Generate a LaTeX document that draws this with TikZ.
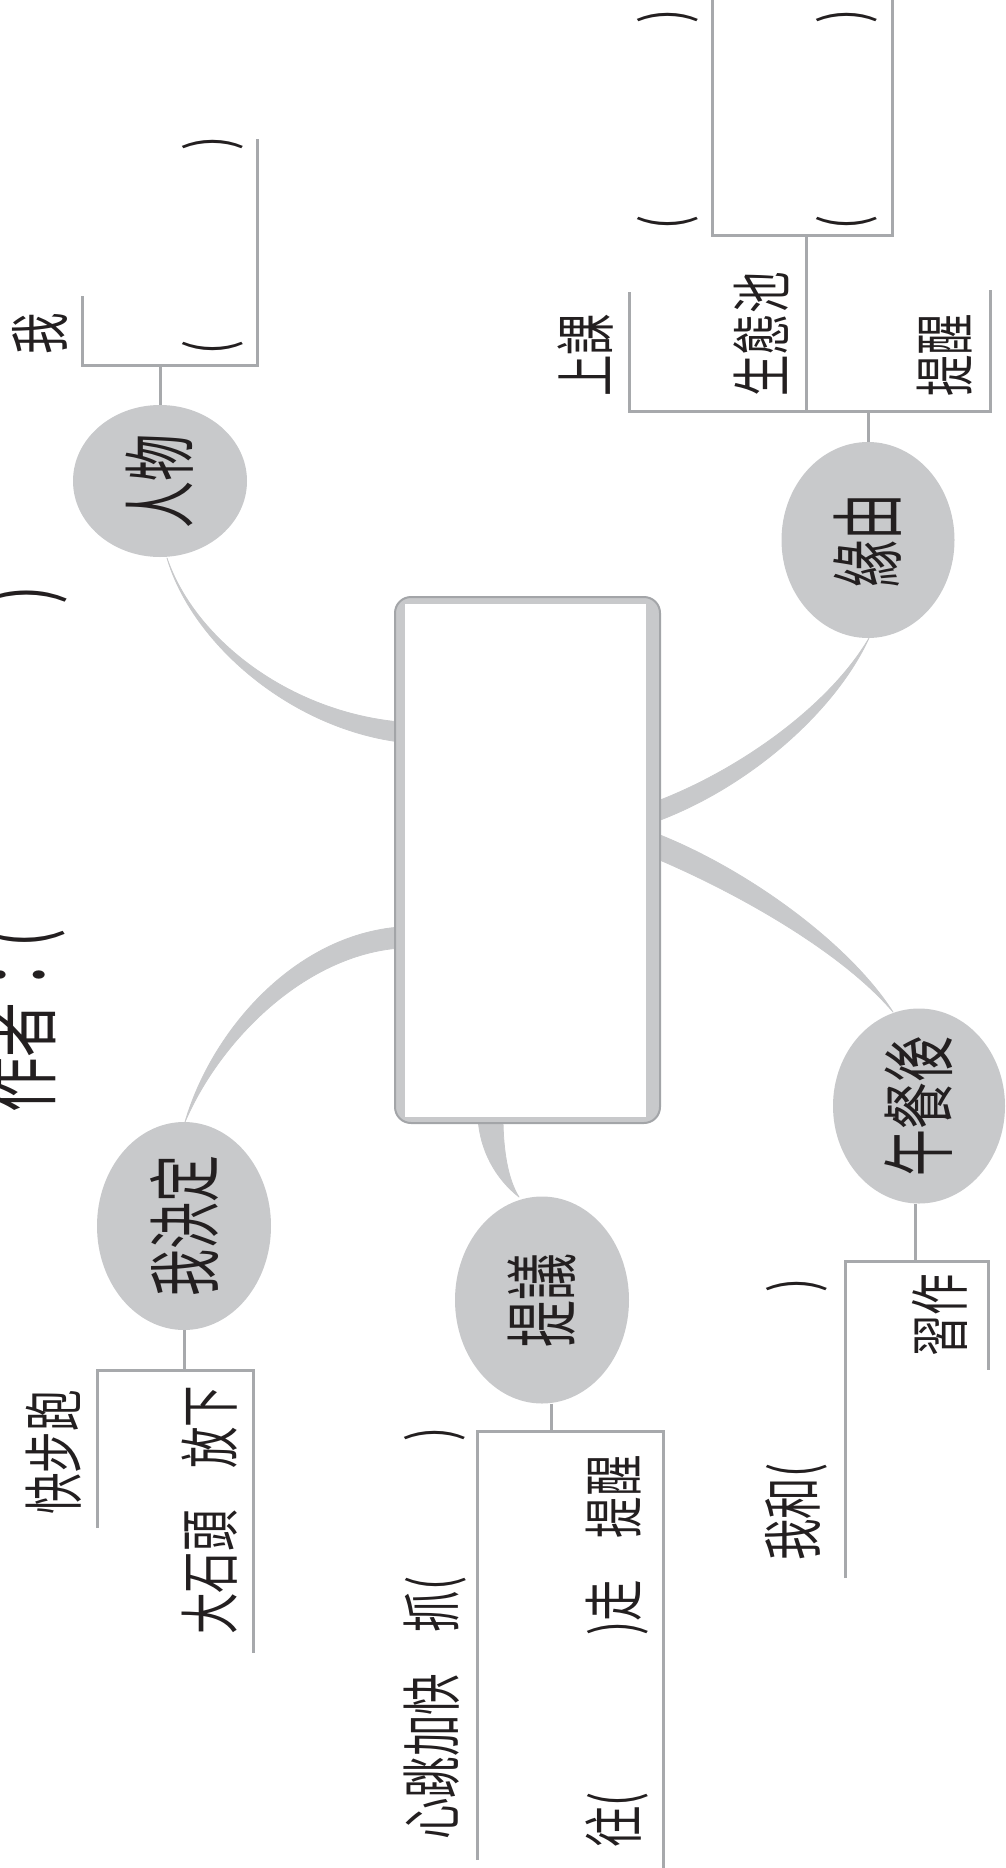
\documentclass[tikz,border=0pt]{standalone}
\usepackage{fontspec}
\newfontfamily\cjk{Noto Sans CJK TC}
\usetikzlibrary{shapes.geometric}
\definecolor{bubgray}{HTML}{C8C9CB}
\definecolor{linegray}{HTML}{A7A9AC}
\definecolor{boxline}{HTML}{A3A5A8}
\definecolor{inkc}{HTML}{231F20}
\newcommand{\LabT}[1]{\scalebox{1}[1.45]{\fontsize{41.5}{42}\selectfont\cjk #1}}
\newcommand{\BubT}[1]{\scalebox{1}[1.56]{\fontsize{47}{48}\selectfont\cjk #1}}
\newcommand{\TitT}[1]{\scalebox{1}[1.45]{\fontsize{55}{56}\selectfont\cjk #1}}
\begin{document}
\begin{tikzpicture}[x=1pt,y=-1pt,
  bub/.style={ellipse, fill=bubgray, inner sep=0pt},
  lab/.style={rotate=90, inner sep=0pt, text=inkc},
  brk/.style={draw=linegray, line width=3pt},
  conn/.style={fill=bubgray, draw=bubgray, line width=0.8pt, line join=round}]
\useasboundingbox (0,0) rectangle (1006,1868);
% tapered connectors
\filldraw[conn] (167,558) .. controls (195,640) and (290,712) .. (400,722) -- (400,742) .. controls (290,728) and (192,643) .. (167,558) -- cycle;
\filldraw[conn] (400,927) .. controls (295,935) and (212,1030) .. (185,1122) .. controls (220,1040) and (305,955) .. (400,948) -- cycle;
\filldraw[conn] (655,802) .. controls (740,770) and (830,705) .. (869,638) .. controls (835,712) and (748,788) .. (655,822) -- cycle;
\filldraw[conn] (655,833) .. controls (745,868) and (848,942) .. (893,1012) .. controls (842,952) and (738,893) .. (655,858) -- cycle;
\filldraw[conn] (478,1118) .. controls (480,1150) and (495,1178) .. (519,1197) .. controls (508,1180) and (503,1150) .. (503,1118) -- cycle;
% central box
\node[draw=boxline, line width=2pt, fill=bubgray, rounded corners=16pt, minimum width=265pt, minimum height=526pt, inner sep=0pt] (ctr) at (527.5,860) {};
\node[fill=white, minimum width=241pt, minimum height=513pt, inner sep=0pt] (ctrin) at (525.5,860.5) {};
% bubbles
\node[bub, minimum width=174pt, minimum height=152pt] (rw) at (160,481) {};
\node[lab] at (rw) {\BubT{人物}};
\node[bub, minimum width=173pt, minimum height=196pt] (yy) at (868,540) {};
\node[lab] at (yy) {\BubT{緣由}};
\node[bub, minimum width=174pt, minimum height=208pt] (wj) at (184,1226) {};
\node[lab] at (wj) {\BubT{我決定}};
\node[bub, minimum width=174pt, minimum height=207pt] (ty) at (542,1300) {};
\node[lab] at (ty) {\BubT{提議}};
\node[bub, minimum width=172pt, minimum height=195pt] (wc) at (919,1106) {};
\node[lab] at (wc) {\BubT{午餐後}};
% brackets
\draw[brk] (rw.north) -- (160,365);
\draw[brk] (82,296) -- (82,365) -- (257,365) -- (257,139);
\draw[brk] (yy.north) -- (868,411);
\draw[brk] (629,292) -- (629,411) -- (990,411) -- (990,290);
\draw[brk] (806,411) -- (806,235);
\draw[brk] (712,0) -- (712,235) -- (892,235) -- (892,0);
\draw[brk] (wj.south) -- (184,1370);
\draw[brk] (97,1528) -- (97,1370) -- (253,1370) -- (253,1653);
\draw[brk] ([xshift=9pt]ty.south) -- (551,1431);
\draw[brk] (477,1860) -- (477,1431) -- (663,1431) -- (663,1868);
\draw[brk] ([xshift=-4pt]wc.south) -- (915,1261);
\draw[brk] (845,1578) -- (845,1261) -- (988,1261) -- (988,1370);
% title
\node[lab, anchor=west] (tit) at (24,1113) {\TitT{作者：(}};
\node[lab] (titr) at (27,595) {\TitT{)}};
% labels
\node[lab] (l1) at (40,334) {\LabT{我}};
\node[lab] (p1) at (213,347) {\LabT{(}};
\node[lab] (p2) at (213,143) {\LabT{)}};
\node[lab, anchor=west] (l2) at (585,397) {\LabT{上課}};
\node[lab, anchor=west] (l3) at (761,397) {\LabT{生態池}};
\node[lab, anchor=west] (l4) at (945,397) {\LabT{提醒}};
\node[lab] (p3) at (668,16) {\LabT{)}};
\node[lab] (p4) at (668,222) {\LabT{(}};
\node[lab] (p5) at (847,16) {\LabT{)}};
\node[lab] (p6) at (847,222) {\LabT{(}};
\node[lab, anchor=west] (l5) at (54,1515) {\LabT{快步跑}};
\node[lab, anchor=west] (l6) at (210,1635) {\LabT{大石頭　放下}};
\node[lab, anchor=west] (l7) at (435,1840) {\LabT{心跳加快　抓(}};
\node[lab] (p7) at (435,1434) {\LabT{)}};
\node[lab, anchor=west] (l8) at (617,1848) {\LabT{往(}};
\node[lab, anchor=east] (l9) at (617,1455) {\LabT{)走　提醒}};
\node[lab, anchor=west] (l10) at (796,1561) {\LabT{我和(}};
\node[lab] (p8) at (797,1285) {\LabT{)}};
\node[lab, anchor=west] (l11) at (940,1357) {\LabT{習作}};
\end{tikzpicture}
\end{document}
